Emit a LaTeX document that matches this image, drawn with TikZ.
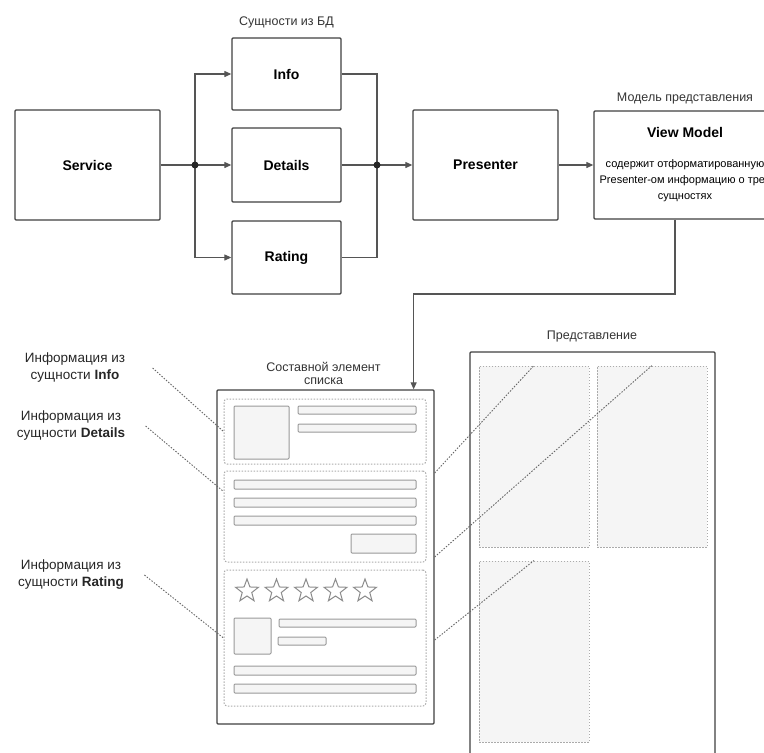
\documentclass[tikz,border=0pt]{standalone}
\usepackage{fontspec}
\setmainfont{Liberation Sans}
\usepackage{xcolor}
\usetikzlibrary{shapes.geometric, arrows, arrows.meta, positioning}

\definecolor{edge}{HTML}{555555}
\definecolor{soft}{HTML}{F5F5F5}
\definecolor{dots}{HTML}{ABABAB}

\begin{document}
\begin{tikzpicture}[
    x=1pt, y=-1pt,
    box/.style={rectangle, draw=black!75, line width=1.3pt, rounded corners=1pt, fill=white, text centered, font=\fontsize{14}{16}\selectfont\bfseries},
    caption/.style={font=\fontsize{12.5}{13.5}\selectfont, text=black!80, align=center},
    note/.style={font=\fontsize{13.5}{17}\selectfont, text=black!85, align=center},
    line/.style={draw=edge, line width=1.1pt},
    arrow/.style={line, -{Triangle[length=7pt,width=6pt]}},
    sect/.style={rectangle, draw=dots, dash pattern=on 1.5pt off 1.5pt, line width=1pt, rounded corners=3pt, minimum width=202pt},
    slot/.style={rectangle, draw=dots, fill=soft, dash pattern=on 1.5pt off 1.5pt, line width=1pt, minimum width=110pt, minimum height=181pt},
    elem/.style={draw=black!40, fill=soft, line width=1pt, rounded corners=1pt},
    leader/.style={draw=black!60, line width=0.9pt, dash pattern=on 1.5pt off 1.5pt},
    rate/.style={star, star points=5, star point ratio=2.4, draw=black!45, line width=1pt, minimum size=24pt, inner sep=0pt}
]
\useasboundingbox (0,0) rectangle (764,753);

% Top row
\node (service) [box, minimum width=145pt, minimum height=110pt] at (87.5,165) {Service};
\node (details) [box, minimum width=109pt, minimum height=74pt] at (286.5,165) {Details};
\node (info) [box, minimum width=109pt, minimum height=72pt] at (286.5,74) {Info};
\node (rating) [box, minimum width=109pt, minimum height=73pt] at (286.5,257.5) {Rating};
\node (presenter) [box, minimum width=145pt, minimum height=110pt] at (485.5,165) {Presenter};
\node (vm) [box, minimum width=182pt, minimum height=108pt, align=center] at (685,165)
    {View Model\\[14pt]{\mdseries\fontsize{11}{12.5}\selectfont содержит отформатированную}\\
     {\mdseries\fontsize{11}{12.5}\selectfont Presenter-ом информацию о трех}\\
     {\mdseries\fontsize{11}{12.5}\selectfont сущностях}};

\node [caption, above=6pt of info] {Сущности из БД};
\node [caption, above=3pt of vm] {Модель представления};

% Junctions
\coordinate (jl) at (195,165);
\coordinate (jr) at (377,165);

\draw [line] (service) -- (jl);
\draw [arrow] (jl) -- (details);
\draw [arrow] (jl) |- (info);
\draw [arrow] (jl) |- (rating);
\draw [line] (info) -| (jr);
\draw [line] (rating) -| (jr);
\draw [line] (details) -- (jr);
\draw [arrow] (jr) -- (presenter);
\draw [arrow] (presenter) -- (vm);
\fill [black!85] (jl) circle (3.5pt);
\fill [black!85] (jr) circle (3.5pt);

% List item
\node (listitem) [box, minimum width=217pt, minimum height=334pt] at (325.5,557) {};
\node [caption, above=1pt of listitem, xshift=-2pt] {Составной элемент\\списка};

\coordinate (vmout) at ([xshift=-10pt]vm.south);
\coordinate (itemin) at ([xshift=-21pt]listitem.north east);
\draw [arrow] (vmout) -- (vmout |- 0,294) -| (itemin);

\node (sec1) [sect, minimum height=65pt] at (325,431.5) {};
\node (sec2) [sect, minimum height=91pt] at (325,516.5) {};
\node (sec3) [sect, minimum height=136pt] at (325,638) {};

% Info part
\draw [elem] (234,406) rectangle (289,459);
\draw [elem] (298,406) rectangle (416,414);
\draw [elem] (298,424) rectangle (416,432);

% Details part
\foreach \y in {480,498,516}
    \draw [elem] (234,\y) rectangle (416,\y+9);
\draw [elem] (351,534) rectangle (416,553);

% Rating part
\foreach \i in {0,...,4}
    \node [rate] at (247+29.5*\i,591) {};
\draw [elem] (234,618) rectangle (271,654);
\draw [elem] (279,619) rectangle (416,627);
\draw [elem] (278,637) rectangle (326,645);
\foreach \y in {666,684}
    \draw [elem] (234,\y) rectangle (416,\y+9);

% Labels
\node (lblinfo) [note] at (75,368) {Информация из\\сущности \textbf{Info}};
\node (lbldetails) [note] at (71,426) {Информация из\\сущности \textbf{Details}};
\node (lblrating) [note] at (71,575) {Информация из\\сущности \textbf{Rating}};

\draw [leader] ([xshift=24pt]lblinfo.east) -- (sec1.west);
\draw [leader] ([xshift=17pt]lbldetails.east) -- ([yshift=-21pt]sec2.north west);
\draw [leader] ([xshift=17pt]lblrating.east) -- (sec3.west);

% View
\node (view) [box, minimum width=245pt, minimum height=430pt] at (592.5,567) {};
\node [caption] at (592,336) {Представление};
\node (slota) [slot] at (534,456.5) {};
\node (slotb) [slot] at (652,456.5) {};
\node (slotc) [slot] at (534,651.5) {};

\draw [leader] (listitem.east |- 0,473) -- (slota.north);
\draw [leader] (listitem.east |- 0,557) -- (slotb.north);
\draw [leader] (listitem.east |- 0,640) -- (slotc.north);

\end{tikzpicture}
\end{document}
